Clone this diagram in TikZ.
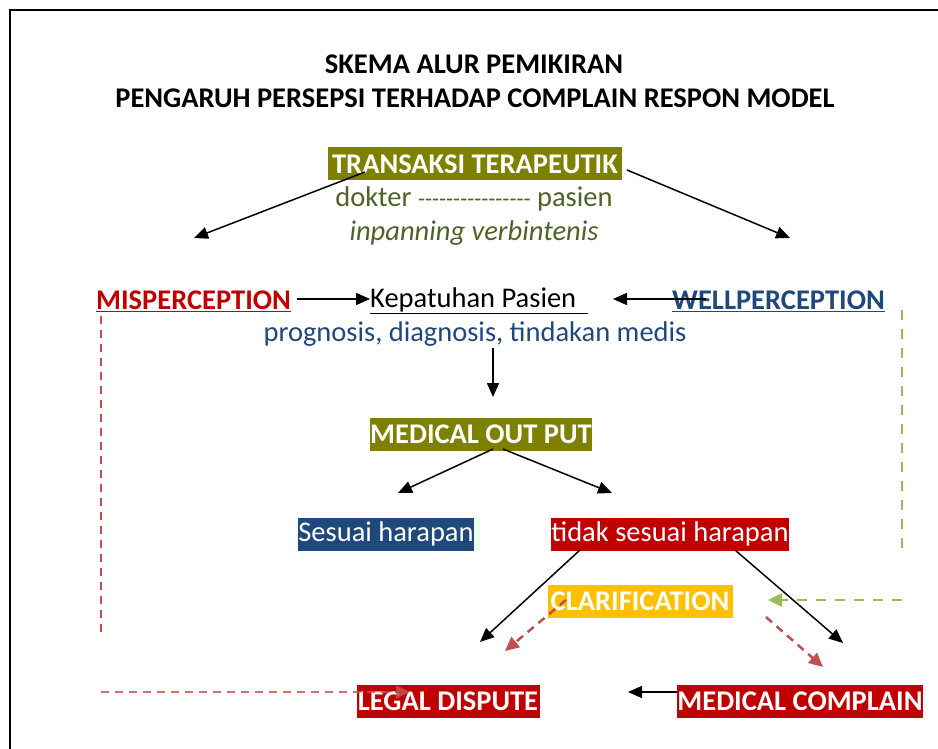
\documentclass[tikz,border=0pt]{standalone}
\usepackage{fontspec}
\setmainfont{Carlito}
\usetikzlibrary{arrows.meta}
\definecolor{olivebox}{HTML}{808000}
\definecolor{greentext}{HTML}{4F6228}
\definecolor{redbox}{HTML}{C00000}
\definecolor{bluetext}{HTML}{1F497D}
\definecolor{yellowbox}{HTML}{FFC000}
\definecolor{dashred}{HTML}{C0504D}
\definecolor{dashgreen}{HTML}{9BBB59}
\newcommand{\fsz}{\fontsize{28.5}{32}\selectfont}
\begin{document}
\begin{tikzpicture}[x=1pt,y=-1pt,
  titletext/.style={font=\fontsize{28.5}{32}\selectfont\bfseries, inner sep=0pt},
  plain/.style={font=\fsz, inner sep=0pt},
  hbox/.style={font=\fsz, text=white, inner sep=0pt, minimum height=33pt},
  bhbox/.style={hbox, font=\fsz\bfseries},
  arr/.style={line width=1.5pt, -{Triangle[length=14pt,width=12pt]}},
  rdash/.style={draw=dashred, line width=2.5pt, dash pattern=on 8pt off 6pt},
  gdash/.style={draw=dashgreen, line width=2.5pt, dash pattern=on 10pt off 9pt},
]
\useasboundingbox (0,0) rectangle (938,749);
\fill[white] (0,0) rectangle (938,749);
\draw[line width=2pt] (10,749) -- (10,10) -- (938,10);

\node[titletext] (t1) at (474,64) {SKEMA ALUR PEMIKIRAN};
\node[titletext] (t2) at (475,98) {PENGARUH PERSEPSI TERHADAP COMPLAIN RESPON MODEL};

\node[bhbox, fill=olivebox, minimum width=294pt] (trans) at (475,164) {TRANSAKSI TERAPEUTIK};
\node[plain, text=greentext] (dok) at (474,199) {dokter {\fontsize{23}{26}\selectfont -{}-{}-{}-{}-{}-{}-{}-{}-{}-{}-{}-{}-{}-{}-{}-} pasien};
\node[plain, text=greentext, font=\fsz\itshape] (inp) at (474,233) {inpanning verbintenis};

\coordinate (la) at (194,238);
\coordinate (ra) at (790,238);
\draw[arr] (365,172) -- (la);
\draw[arr] (627,170) -- (ra);

\node[plain, text=redbox, font=\fsz\bfseries, anchor=west] (mis) at (96,301) {\underline{MISPERCEPTION}};
\node[plain, anchor=west] (kep) at (370,301) {\underline{Kepatuhan Pasien\hspace{12pt}}};
\node[plain, text=bluetext, font=\fsz\bfseries, anchor=east] (well) at (885,301) {\underline{WELLPERCEPTION}};
\node[plain, text=bluetext] (prog) at (475,334) {prognosis, diagnosis, tindakan medis};

\draw[arr] (297,299) -- (kep.west |- 0,299);
\draw[arr] (706,299) -- (613,299);

\coordinate (pd) at (493,348);
\draw[arr] (pd) -- (493,397);

\node[bhbox, fill=olivebox, minimum width=222pt] (mo) at (481,434) {MEDICAL OUT PUT};

\draw[arr] (493,449) -- (398,493);
\draw[arr] (503,449) -- (612,493);

\fill[green!8!white] (474,517) rectangle (480,550);
\node[hbox, fill=bluetext, minimum width=176pt] (ses) at (386,534) {Sesuai harapan};
\node[hbox, fill=redbox, minimum width=238pt] (tid) at (670,534) {tidak sesuai harapan};

\node[bhbox, fill=yellowbox, minimum width=185pt] (cla) at (640,601) {CLARIFICATION};

\draw[arr] (580,550) -- (480,642);
\draw[arr] (735,550) -- (843,643);

\draw[rdash, -{Triangle[length=14pt,width=13pt]}, dashred] (566,600) -- (505,651);
\draw[rdash, -{Triangle[length=14pt,width=13pt]}, dashred] (766,617) -- (823,667);

\draw[gdash] (902,310) -- (902,555);
\draw[gdash, -{Triangle[length=14pt,width=13pt]}, dashgreen] (902,600) -- (768,600);

\draw[rdash] (101,316) -- (101,635);

\node[bhbox, fill=redbox, minimum width=183pt] (leg) at (448,701) {LEGAL DISPUTE};
\node[bhbox, fill=redbox, minimum width=246pt] (mc) at (800,701) {MEDICAL COMPLAIN};

\draw[rdash, -{Triangle[length=14pt,width=13pt]}, dashred, draw opacity=0.8, fill opacity=0.8] (101,692) -- (410,692);
\draw[arr] (mc.west |- 0,692) -- (628,692);
\end{tikzpicture}
\end{document}
